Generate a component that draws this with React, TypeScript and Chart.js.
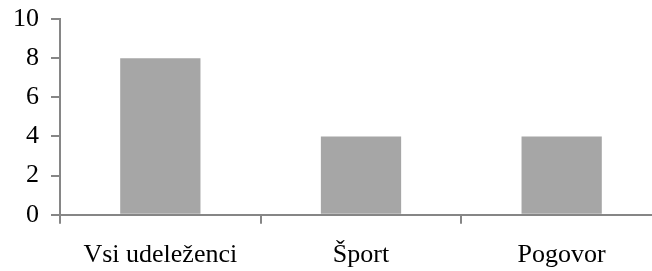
import React, { useEffect, useRef } from "react";
import { Chart, registerables } from "chart.js";

Chart.register(...registerables);

const categories = ["Vsi udeleženci", "Šport", "Pogovor"];
const values = [8, 4, 4];
const yMin = 0;
const yMax = 10;
const yStep = 2;

export default function App() {
  const ref = useRef<HTMLCanvasElement | null>(null);
  useEffect(() => {
    if (!ref.current) return;
    const family = "'Liberation Serif', 'Times New Roman', serif";
    const chart = new Chart(ref.current, {
      type: "bar",
      data: {
        labels: categories,
        datasets: [
          {
            data: values,
            backgroundColor: "#a6a6a6",
            barPercentage: 0.4,
            categoryPercentage: 1,
          },
        ],
      },
      options: {
        animation: false,
        responsive: false,
        maintainAspectRatio: false,
        layout: { padding: { left: 1, right: 38, top: 19, bottom: 0 } },
        plugins: { legend: { display: false }, tooltip: { enabled: false } },
        scales: {
          x: {
            offset: true,
            afterFit: (s: any) => {
              s.paddingLeft = 0;
              s.paddingRight = 0;
            },
            grid: {
              offset: true,
              drawOnChartArea: false,
              drawTicks: true,
              tickLength: 9,
              color: "#868686",
              lineWidth: 2,
            },
            border: { color: "#868686", width: 2 },
            ticks: { color: "#000", font: { family, size: 26 }, padding: 16, maxRotation: 0 },
          },
          y: {
            min: yMin,
            max: yMax,
            afterFit: (s: any) => {
              s.paddingTop = 0;
              s.paddingBottom = 0;
            },
            grid: {
              drawOnChartArea: false,
              drawTicks: true,
              tickLength: 9,
              color: "#868686",
              lineWidth: 2,
            },
            border: { color: "#868686", width: 2 },
            ticks: { color: "#000", font: { family, size: 26 }, stepSize: yStep, padding: 12 },
          },
        },
      },
    });
    return () => chart.destroy();
  }, []);
  return (
    <div style={{ position: "fixed", left: 0, top: 0, width: 652, height: 271, overflow: "hidden", background: "#fff" }}>
      <canvas ref={ref} width={700} height={287} style={{ display: "block" }} />
    </div>
  );
}
